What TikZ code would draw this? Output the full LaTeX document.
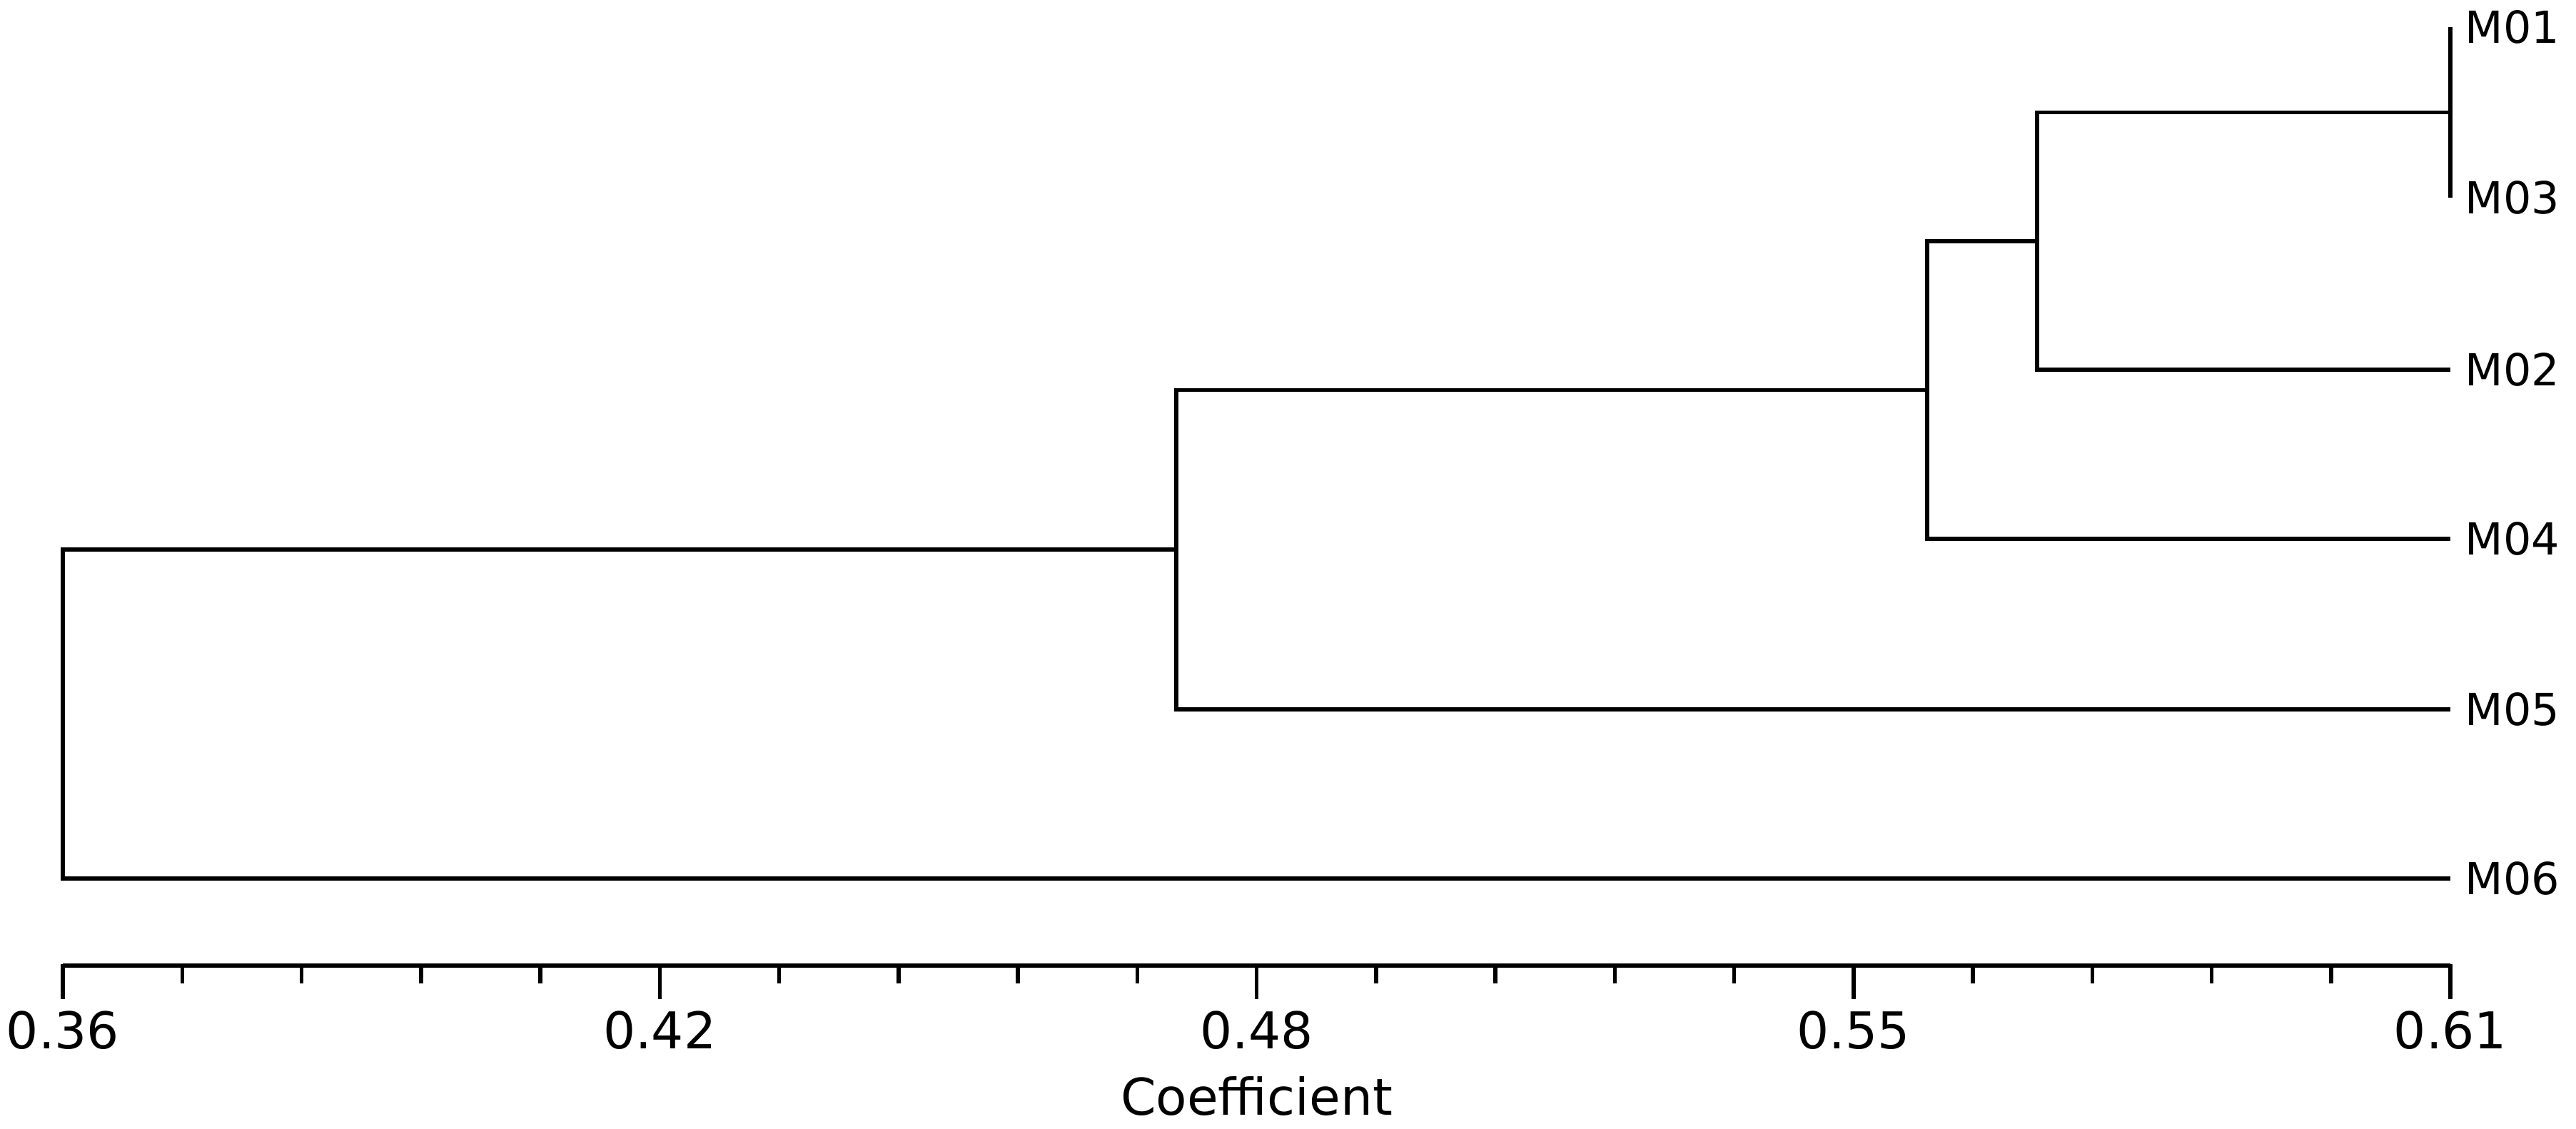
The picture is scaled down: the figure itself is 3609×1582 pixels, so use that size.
\documentclass[tikz,border=0pt]{standalone}
\usepackage{fontspec}
\setmainfont{DejaVu Sans}
\begin{document}
\begin{tikzpicture}[x=0.01cm,y=-0.01cm,
  branch/.style={line width=0.055cm, line join=miter},
  axisline/.style={line width=0.055cm},
  leaflabel/.style={anchor=base west, inner sep=0pt, font=\fontsize{17.6}{20}\selectfont},
  ticklabel/.style={anchor=base, inner sep=0pt, font=\fontsize{20.2}{24}\selectfont},
  axislabel/.style={anchor=base, inner sep=0pt, font=\fontsize{20.2}{24}\selectfont}]
\useasboundingbox (0,0) rectangle (3609,1582);
% leaves
\coordinate (L1) at (3433,38);
\coordinate (L3) at (3433,277);
\coordinate (L2) at (3433,518);
\coordinate (L4) at (3433,755);
\coordinate (L5) at (3433,994);
\coordinate (L6) at (3433,1231);
% internal nodes
\coordinate (n1) at (3433,157.5);
\coordinate (n2) at (2854,337.75);
\coordinate (n3) at (2700,546.4);
\coordinate (n4) at (1648,770.2);
\coordinate (root) at (88,1000.6);
% tree
\draw[branch] (L1) -- (L3);
\draw[branch] (n1) -| (n2) |- (L2);
\draw[branch] (n2) -| (n3) |- (L4);
\draw[branch] (n3) -| (n4) |- (L5);
\draw[branch] (n4) -| (root) |- (L6);
% leaf labels
\node[leaflabel] (tM01) at (3453,60.5) {M01};
\node[leaflabel] (tM03) at (3453,299.5) {M03};
\node[leaflabel] (tM02) at (3453,540.5) {M02};
\node[leaflabel] (tM04) at (3453,777.5) {M04};
\node[leaflabel] (tM05) at (3453,1016.5) {M05};
\node[leaflabel] (tM06) at (3453,1253.5) {M06};
% axis
\coordinate (A0) at (88,1353);
\coordinate (A1) at (3433,1353);
\draw[axisline] (A0) -- (A1);
\foreach \i in {0,...,20}{
  \pgfmathsetmacro{\xx}{88+\i*167.25}
  \pgfmathtruncatemacro{\m}{mod(\i,5)}
  \ifnum\m=0
    \draw[axisline] (\xx,1351) -- (\xx,1400);
  \else
    \draw[axisline] (\xx,1351) -- (\xx,1378);
  \fi
}
\node[ticklabel] (t0) at (88,1469) {0.36};
\node[ticklabel] (t1) at (924.25,1469) {0.42};
\node[ticklabel] (t2) at (1760.5,1469) {0.48};
\node[ticklabel] (t3) at (2596.75,1469) {0.55};
\node[ticklabel] (t4) at (3433,1469) {0.61};
\node[axislabel] (xl) at (1760.5,1562) {Coefficient};
\end{tikzpicture}
\end{document}
